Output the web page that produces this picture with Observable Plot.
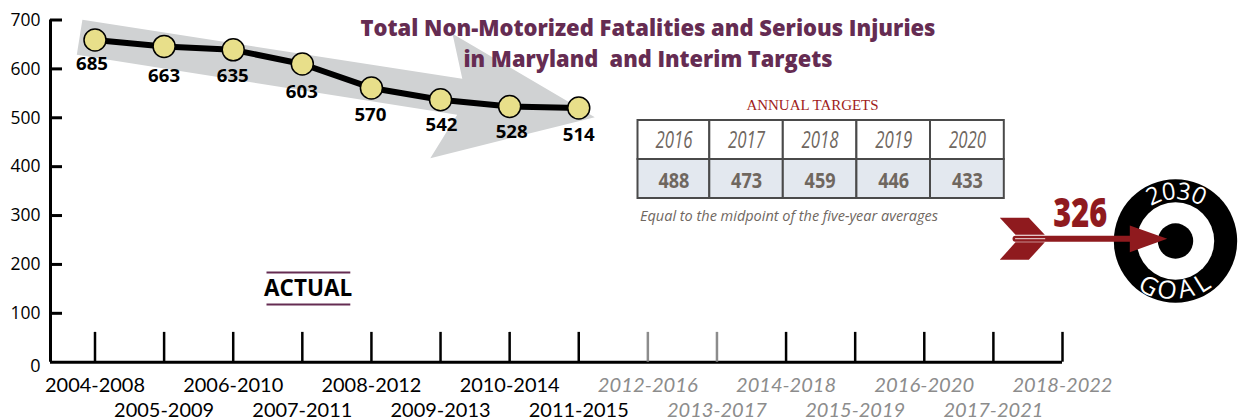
<!DOCTYPE html>
<html>
<head>
<meta charset="utf-8">
<script src="https://cdn.jsdelivr.net/npm/d3@7"></script>
<script src="https://cdn.jsdelivr.net/npm/@observablehq/plot@0.6"></script>
<style>
html,body{margin:0;padding:0;background:#fff}
svg{display:block;background:#fff}
</style>
</head>
<body>
<div id="chart"></div>
<script>
// ---------- data ----------
const periods = ["2004-2008","2005-2009","2006-2010","2007-2011","2008-2012","2009-2013","2010-2014","2011-2015",
  "2012-2016","2013-2017","2014-2018","2015-2019","2016-2020","2017-2021","2018-2022"];
const actualValues = [659,646,639,610,561,537,523,520];
const actualLabels = ["685","663","635","603","570","542","528","514"];
const labelHeights = [609,584,584,552,506,484,470,465];
const labelOffsetsX = [-3,0,-0.5,-0.5,-1,1,2,0];
const yTicks = [100,200,300,400,500,600,700];
const targetYears = ["2016","2017","2018","2019","2020"];
const targetValues = ["488","473","459","446","433"];
const title1 = "Total Non-Motorized Fatalities and Serious Injuries";
const title2 = "in Maryland  and Interim Targets";
const caption = "Equal to the midpoint of the five-year averages";
const goalValue = "326";

// ---------- layout (pixels, mapped back into data units) ----------
const W = 1243, H = 420;
const X0 = 94.5, X14 = 1062, Y0 = 361.7, Y700 = 19.5;
const ax = p => (p - X0) / ((X14 - X0) / 14);
const ay = p => (Y0 - p) / ((Y0 - Y700) / 700);
const P = ([a, b]) => ({x: ax(a), y: ay(b)});

const bigArrow = [[81.9,19.3],[461.8,78.3],[452,33.3],[594.3,116.7],[429.8,157.7],[456.7,114.3],[76.3,54.3]].map(P);
const fletchTop = [[999.3,217.3],[1028.3,217.3],[1044.3,234.3],[1015,234.3]].map(P);
const fletchBot = [[1015,241.7],[1044.3,241.7],[1028.3,259.3],[999.3,259.3]].map(P);
const head = [[1129.3,225],[1166.7,238.3],[1129.3,251.7]].map(P);
const shaft = [[1015,238.2],[1132,238.2]].map(P);
const nock = [[1015,238.2],[1044.3,238.2]].map(P);
const tc = [1175, 240.5];
const letters2030 = [["2",-21.7,-44.8,-25],["0",-6.7,-48.8,-8],["3",8.3,-48.8,9],["0",23.3,-44.8,25]];
const lettersGoal = [["G",-27,45.5,28],["O",-8.5,49.5,10],["A",10.5,48,-12],["L",27,42.5,-32]];
const tableEdges = [637.5,709.3,782.8,856.4,930,1003.8];
const colMid = i => (tableEdges[i] + tableEdges[i+1]) / 2;
const cols = targetYears.map((_, i) => i);

const maroon = "#652c52", red = "#8f1a1e", brown = "#6f675f", grey = "#8c8c8c";
const sans = "'Open Sans', sans-serif";
const lato = "Lato, sans-serif";

const svg = Plot.plot({
  width: W, height: H,
  marginLeft: 50, marginRight: W - X14, marginTop: Y700, marginBottom: H - Y0,
  style: {background: "#fff", color: "#000", fontFamily: sans, overflow: "visible"},
  x: {type: "linear", domain: [0,14], range: [X0, X14], axis: null},
  y: {type: "linear", domain: [0,700], range: [Y0, Y700], axis: null},
  marks: [
    // big grey trend arrow
    Plot.line(bigArrow, {x:"x", y:"y", fill:"#d0d2d3", stroke:"none"}),

    // axes
    Plot.ruleY([0], {stroke:"#000", strokeWidth:3}),
    Plot.ruleX([ax(50)], {y1:0, y2:700, stroke:"#000", strokeWidth:3}),
    Plot.axisY(yTicks, {anchor:"left", tickSize:-12, tickPadding:22, strokeWidth:3, stroke:"#000",
      fontSize:18, fill:"#000", fontFamily:sans, label:null, tickFormat:d=>String(d)}),
    Plot.text([0], {x:()=>ax(40), y:()=>ay(366), text:()=>"0", textAnchor:"end", fontSize:18, fill:"#000"}),
    Plot.ruleX(periods.map((_,i)=>i), {y1:0, y2:61, stroke:i=>(i===8||i===9)?grey:"#000", strokeWidth:2.5}),
    ...[[0,2,4,6,16,"#000","normal"],[1,3,5,7,41,"#000","normal"],[8,10,12,14,16,grey,"italic"],[9,11,13,null,41,grey,"italic"]]
      .map(([a,b,c,d,pad,col,st]) => Plot.axisX([a,b,c,d].filter(v=>v!==null), {
        anchor:"bottom", tickSize:0, tickPadding:pad, label:null, tickFormat:i=>periods[i],
        fontSize:19, fill:col, fontStyle:st, fontFamily:lato})),

    // actual line
    Plot.line(actualValues, {x:(d,i)=>i, y:d=>d, stroke:"#000", strokeWidth:6, curve:"linear"}),
    Plot.dot(actualValues, {x:(d,i)=>i, y:d=>d, r:11, fill:"#e8df8a", stroke:"#000", strokeWidth:1.5}),
    Plot.text(actualLabels, {x:(d,i)=>i+labelOffsetsX[i]/69.1, y:(d,i)=>labelHeights[i], text:d=>d,
      fontSize:18, fontWeight:700, fill:"#000"}),

    // title
    Plot.text([title1], {x:()=>ax(647.5), y:()=>ay(28), text:d=>d, fontSize:23.5, fontWeight:800, fill:maroon}),
    Plot.text([title2], {x:()=>ax(647.5), y:()=>ay(59), text:d=>d, fontSize:23.5, fontWeight:800, fill:maroon}),

    // ACTUAL label
    Plot.ruleY([ay(272), ay(304)], {x1:()=>ax(266.5), x2:()=>ax(350.3), stroke:maroon, strokeWidth:2}),
    Plot.text(["ACTUAL"], {x:()=>ax(307.6), y:()=>ay(288), text:d=>d, fontSize:24, fontWeight:700, fill:"#000"}),

    // targets table
    Plot.text(["ANNUAL TARGETS"], {x:()=>ax(812), y:()=>ay(105), text:d=>d, fontSize:15,
      fontFamily:"'Liberation Serif', serif", fill:"#a01c20"}),
    Plot.rect(cols, {x1:i=>ax(tableEdges[i]), x2:i=>ax(tableEdges[i+1]), y1:()=>ay(120), y2:()=>ay(159),
      fill:"#fff", stroke:"#4a4a4a", strokeWidth:2}),
    Plot.rect(cols, {x1:i=>ax(tableEdges[i]), x2:i=>ax(tableEdges[i+1]), y1:()=>ay(159), y2:()=>ay(198),
      fill:"#e3e8ef", stroke:"#4a4a4a", strokeWidth:2}),
    Plot.text(targetYears, {x:(d,i)=>ax(colMid(i)), y:()=>ay(140), text:d=>d, fontSize:23, fontWeight:400,
      fontStyle:"italic", fill:brown}),
    Plot.text(targetValues, {x:(d,i)=>ax(colMid(i)), y:()=>ay(180), text:d=>d, fontSize:22, fontWeight:700, fill:brown}),
    Plot.text([caption], {x:()=>ax(639.5), y:()=>ay(216.5), text:d=>d, textAnchor:"start", fontSize:14,
      fontStyle:"italic", fill:brown}),

    // target
    Plot.dot([P(tc)], {x:"x", y:"y", r:61.7, fill:"#000"}),
    Plot.dot([P(tc)], {x:"x", y:"y", r:38.7, fill:"#fff"}),
    Plot.dot([P(tc)], {x:"x", y:"y", r:17.7, fill:"#000"}),
    Plot.text(letters2030, {x:d=>ax(tc[0]+d[1]), y:d=>ay(tc[1]+d[2]), text:d=>d[0], rotate:d=>d[3], fontSize:24, fill:"#fff"}),
    Plot.text(lettersGoal, {x:d=>ax(tc[0]+d[1]), y:d=>ay(tc[1]+d[2]), text:d=>d[0], rotate:d=>d[3], fontSize:25, fill:"#fff"}),

    // red arrow
    Plot.line(shaft, {x:"x", y:"y", stroke:red, strokeWidth:6}),
    Plot.line(fletchTop, {x:"x", y:"y", fill:red, stroke:"none"}),
    Plot.line(fletchBot, {x:"x", y:"y", fill:red, stroke:"none"}),
    Plot.line(head, {x:"x", y:"y", fill:red, stroke:"none"}),
    Plot.line(nock, {x:"x", y:"y", stroke:"#f0e0e0", strokeWidth:1}),
    Plot.text([goalValue], {x:()=>ax(1079.7), y:()=>ay(213.5), text:d=>d, fontSize:41, fontWeight:800, fill:red})
  ]
});
document.getElementById("chart").appendChild(svg);

// squeeze text to the widths measured on the reference (its typeface is condensed)
const widths = new Map([
  [title1,575],[title2,369],["ACTUAL",88],["ANNUAL TARGETS",132],[caption,298],[goalValue,54],
  ...targetYears.map(d=>[d,37]), ...targetValues.map(d=>[d,31]), ...periods.map(d=>[d,100]),
  ...actualLabels.map(d=>[d,32]), ...yTicks.map(d=>[String(d),30])
]);
svg.querySelectorAll("text").forEach(t => {
  const w = widths.get(t.textContent);
  if (w) { t.setAttribute("textLength", w); t.setAttribute("lengthAdjust", "spacingAndGlyphs"); }
});
</script>
</body>
</html>
